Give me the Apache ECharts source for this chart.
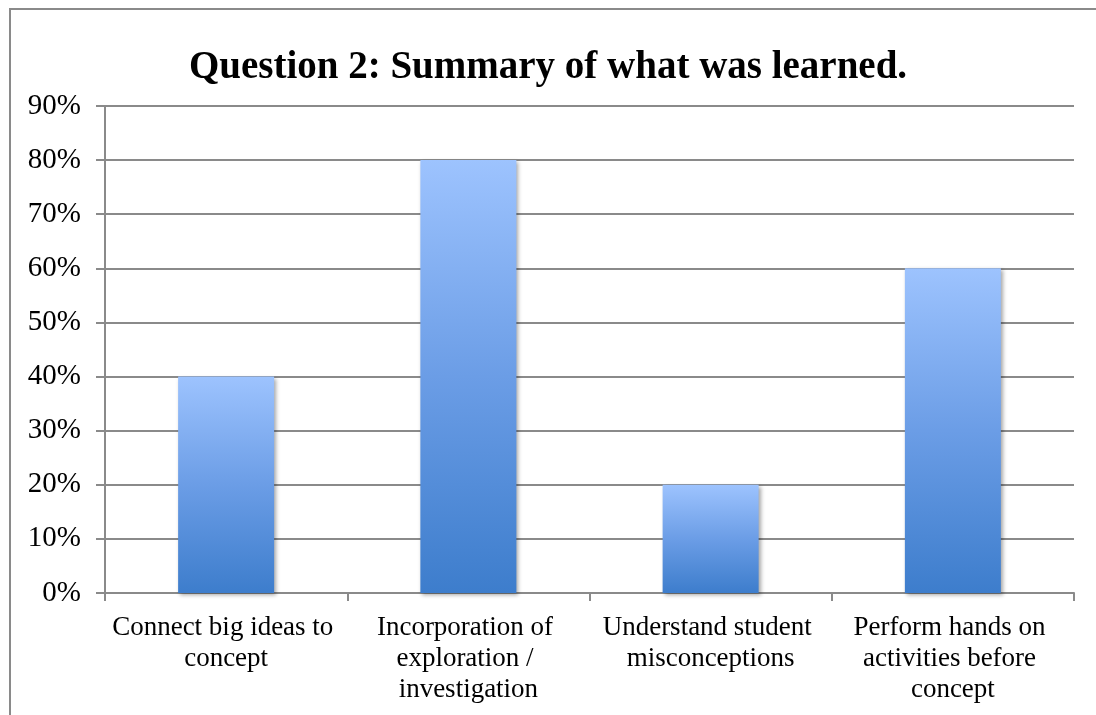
<!DOCTYPE html>
<html>
<head>
<meta charset="utf-8">
<script src="https://cdn.jsdelivr.net/npm/echarts@6/dist/echarts.min.js"></script>
<style>
  html, body { margin: 0; padding: 0; background: #fff; }
  #chart { width: 1096px; height: 715px; }
</style>
</head>
<body>
<div id="chart"></div>
<script>
// chart data
var categories = [
  'Connect big ideas to concept',
  'Incorporation of exploration / investigation',
  'Understand student misconceptions',
  'Perform hands on activities before concept'
];
var percents = [40, 80, 20, 60];
var yTicks = [0, 10, 20, 30, 40, 50, 60, 70, 80, 90];

var chart = echarts.init(document.getElementById('chart'));
var font = 'Liberation Serif';
var gray = '#8a8a8a';

var option = {
  animation: false,
  title: {
    text: 'Question 2: Summary of what was learned.',
    left: 'center',
    top: 43,
    textStyle: { fontFamily: font, fontSize: 39, fontWeight: 'bold', color: '#000' }
  },
  graphic: [{
    type: 'rect',
    shape: { x: 10, y: 9, width: 1200, height: 800 },
    style: { fill: 'none', stroke: gray, lineWidth: 2 },
    silent: true
  }],
  grid: { left: 105, right: 22, top: 106, bottom: 122, containLabel: false },
  xAxis: {
    type: 'category',
    data: categories,
    axisLine: { lineStyle: { color: gray, width: 2 } },
    axisTick: { show: true, length: 8, lineStyle: { color: gray, width: 2 } },
    axisLabel: {
      interval: 0,
      margin: 19,
      fontFamily: font,
      fontSize: 27,
      color: '#000',
      lineHeight: 31,
      width: 236,
      overflow: 'break'
    }
  },
  yAxis: {
    type: 'value',
    min: yTicks[0],
    max: yTicks[yTicks.length - 1],
    interval: 10,
    axisLine: { show: true, lineStyle: { color: gray, width: 2 } },
    axisTick: { show: true, length: 9, lineStyle: { color: gray, width: 2 } },
    splitLine: { lineStyle: { color: gray, width: 2 } },
    axisLabel: {
      margin: 24,
      fontFamily: font,
      fontSize: 29,
      color: '#000',
      formatter: '{value}%'
    }
  },
  series: [{
    type: 'bar',
    data: percents,
    barWidth: 96,
    itemStyle: {
      color: new echarts.graphic.LinearGradient(0, 0, 0, 1, [
        { offset: 0, color: '#9dc3fe' },
        { offset: 0.5, color: '#6b9de6' },
        { offset: 1, color: '#3d7dcc' }
      ]),
      shadowColor: 'rgba(0,0,0,0.35)',
      shadowBlur: 4,
      shadowOffsetX: 2,
      shadowOffsetY: 2
    }
  }]
};

chart.setOption(option);
</script>
</body>
</html>
